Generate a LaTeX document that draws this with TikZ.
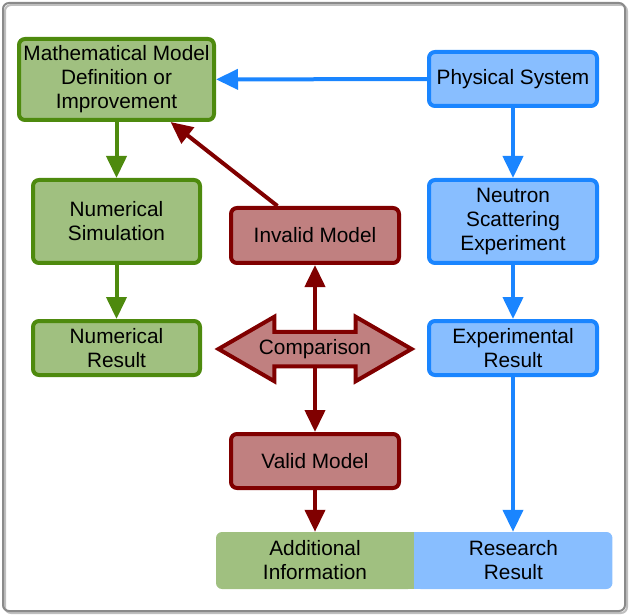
\documentclass[tikz,border=0pt]{standalone}
\usepackage{fontspec}
\setmainfont{Liberation Sans}
\usetikzlibrary{positioning, arrows.meta, shapes.arrows}

\definecolor{greenfill}{HTML}{A0C080}
\definecolor{greenline}{HTML}{4E8A0E}
\definecolor{redfill}{HTML}{C08080}
\definecolor{redline}{HTML}{800000}
\definecolor{bluefill}{HTML}{88BEFF}
\definecolor{blueline}{HTML}{1A85FF}
\definecolor{framegray}{HTML}{8A8A8A}

\begin{document}
\begin{tikzpicture}[x=1pt, y=-1pt,
    font=\fontsize{20.8}{24}\selectfont,
    >={Triangle[length=22pt, width=20pt]},
    box/.style={line width=4pt, rounded corners=6pt, align=center, inner sep=0pt},
    greenbox/.style={box, draw=greenline, fill=greenfill},
    redbox/.style={box, draw=redline, fill=redfill},
    bluebox/.style={box, draw=blueline, fill=bluefill},
    greenarrow/.style={->, line width=4pt, draw=greenline, fill=greenline},
    redarrow/.style={->, line width=4pt, draw=redline, fill=redline},
    bluearrow/.style={->, line width=4pt, draw=blueline, fill=blueline}]

    \useasboundingbox (0,0) rectangle (630,615);

    % frame %
    \draw[black!25, line width=2pt, rounded corners=6pt] (5,5) rectangle (627,613);
    \draw[framegray, line width=2pt, rounded corners=6pt] (3,3) rectangle (625,611);

    % left column %
    \node [greenbox,
        minimum width=195pt,
        minimum height=81pt
    ] (model) at (116.5,79.5) {Mathematical Model\\Definition or\\Improvement};

    \node [greenbox,
        minimum width=167pt,
        minimum height=83pt,
        below=56pt of model
    ] (simulation) {Numerical\\Simulation};

    \node [greenbox,
        minimum width=167pt,
        minimum height=54pt,
        below=54pt of simulation
    ] (numresult) {Numerical\\Result};

    % right column %
    \node [bluebox,
        minimum width=168pt,
        minimum height=54pt
    ] (system) at (513,79) {Physical System};

    \node [bluebox,
        minimum width=168pt,
        minimum height=83pt,
        below=70pt of system
    ] (experiment) {Neutron\\Scattering\\Experiment};

    \node [bluebox,
        minimum width=168pt,
        minimum height=54pt,
        below=54pt of experiment
    ] (expresult) {Experimental\\Result};

    % middle column %
    \node [redbox,
        minimum width=168pt,
        minimum height=55pt
    ] (invalid) at (315,235.5) {Invalid Model};

    \node [double arrow,
        draw=redline,
        fill=redfill,
        line width=4pt,
        double arrow tip angle=60,
        double arrow head extend=15pt,
        minimum height=193pt,
        text height=15pt,
        text depth=4.5pt,
        inner xsep=2pt,
        inner ysep=5.5pt
    ] (comparison) at (315,349) {Comparison};

    \node [redbox,
        minimum width=168pt,
        minimum height=54pt
    ] (valid) at (315,461) {Valid Model};

    % results bar %
    \node [fill=greenfill,
        rounded corners=6pt,
        align=center,
        minimum width=198pt,
        minimum height=57pt
    ] (addinfo) at (315,560.5) {Additional\\Information};

    \node [fill=bluefill,
        rounded corners=6pt,
        align=center,
        minimum width=198pt,
        minimum height=57pt,
        right=0pt of addinfo
    ] (research) {Research\\Result};

    \fill[greenfill] ([xshift=-8pt]addinfo.north east) rectangle (addinfo.south east);
    \fill[bluefill] (research.north west) rectangle ([xshift=8pt]research.south west);

    % arrows %
    \draw[bluearrow] (system) -- (model);
    \draw[bluearrow] (system) -- (experiment);
    \draw[bluearrow] (experiment) -- (expresult);
    \draw[bluearrow] (expresult) -- (expresult |- research.north);
    \draw[greenarrow] (model) -- (simulation);
    \draw[greenarrow] (simulation) -- (numresult);
    \draw[redarrow] (invalid) -- (model);
    \draw[redarrow, shorten <=15.5pt] (comparison.center) -- (invalid);
    \draw[redarrow, shorten <=15.5pt] (comparison.center) -- (valid);
    \draw[redarrow] (valid) -- (valid |- addinfo.north);
\end{tikzpicture}
\end{document}
